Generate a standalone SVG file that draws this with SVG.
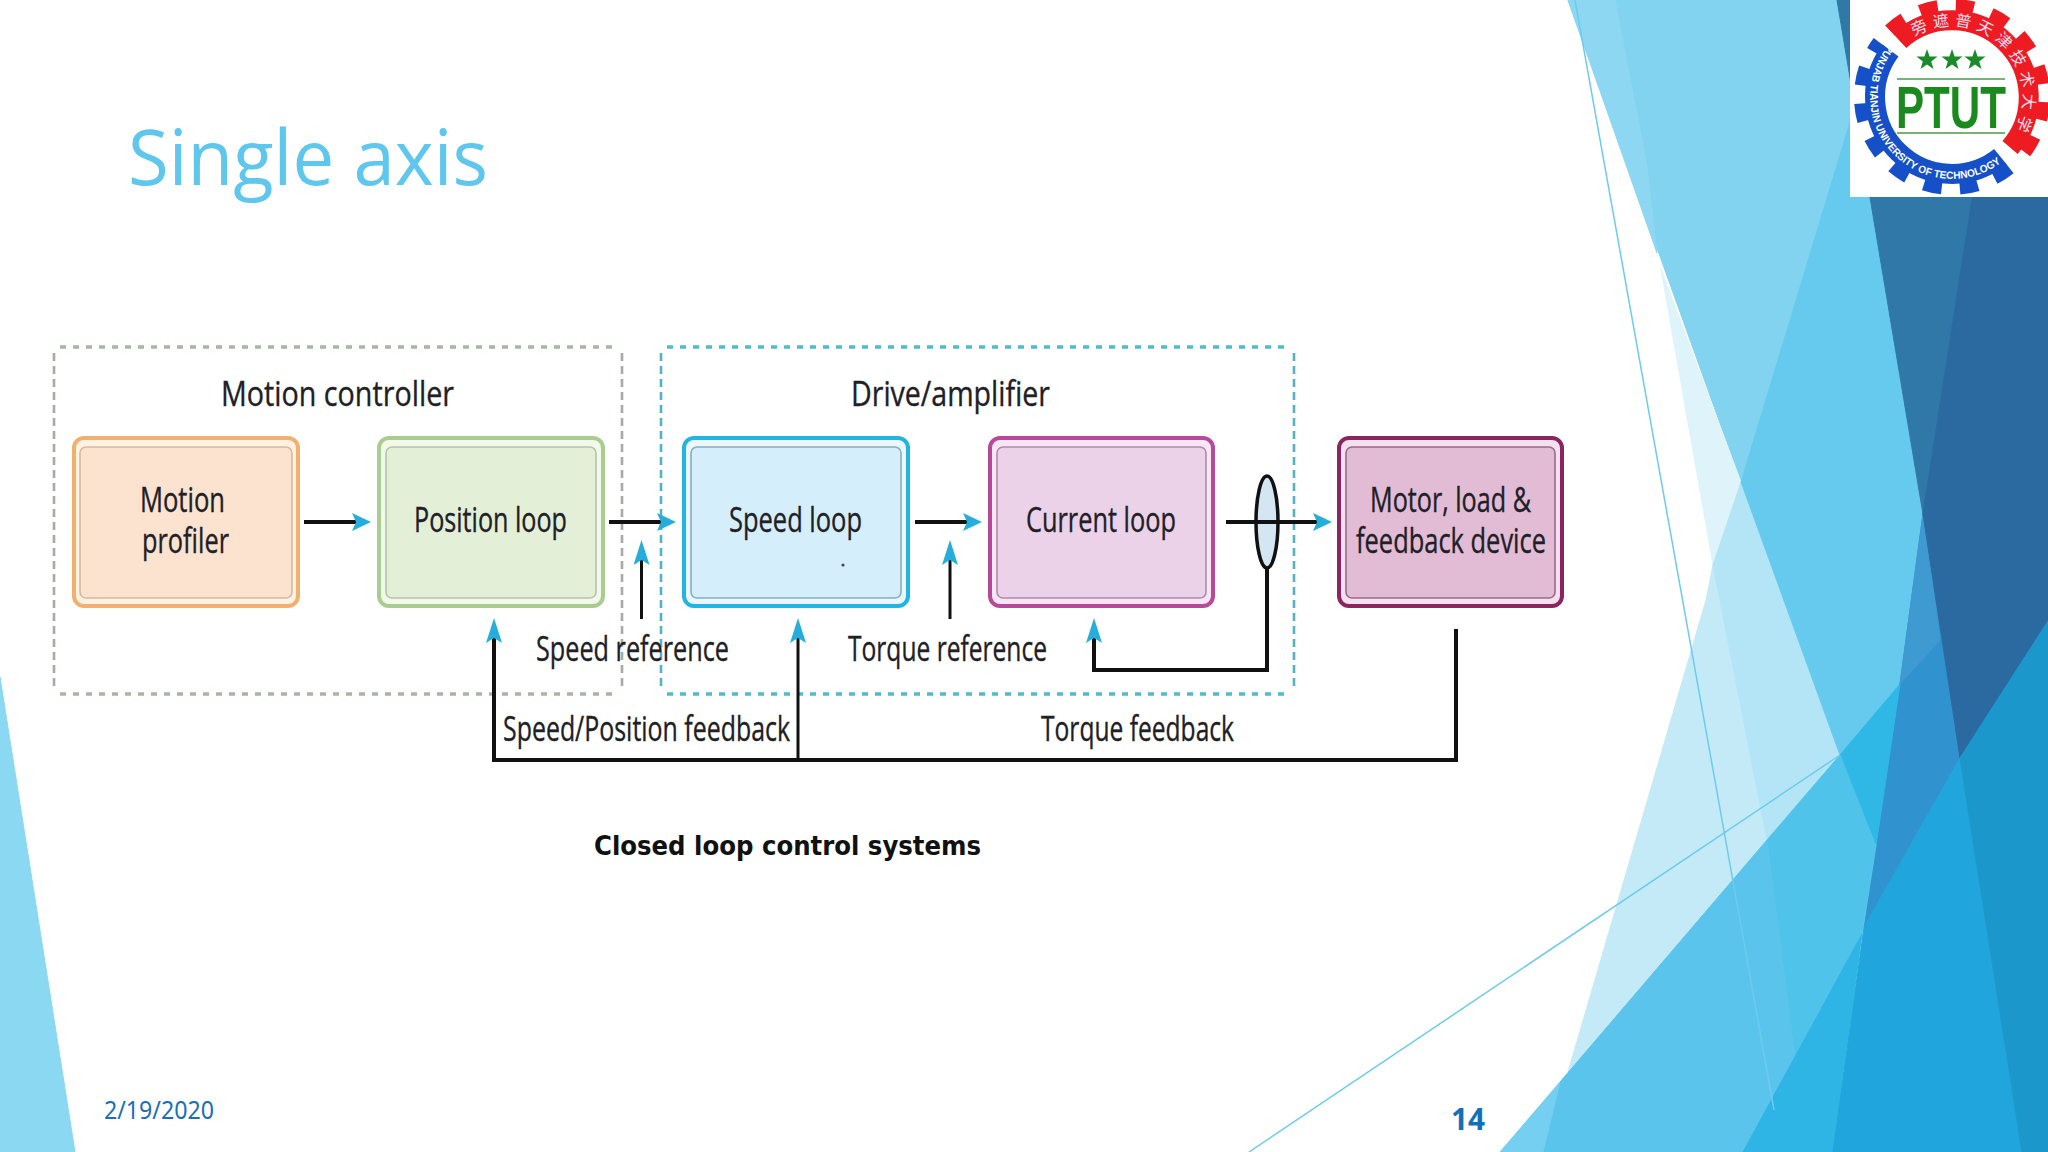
<svg xmlns="http://www.w3.org/2000/svg" xmlns:xlink="http://www.w3.org/1999/xlink" width="2048" height="1152" viewBox="0 0 2048 1152">
<style>
.lbl{font-family:"Open Sans","Noto Sans",sans-serif;font-size:34px;fill:#202026;stroke:#202026;stroke-width:.35;text-anchor:start}
.ln{fill:none;stroke:#111;stroke-width:4}
.ln2{fill:none;stroke:#111;stroke-width:3}
.outer{stroke-width:4}
.inner{stroke-width:1.6}
.thin{fill:none;stroke:#6dcbee;stroke-width:1.5}
.dots{fill:none;stroke-width:3.4;stroke-dasharray:6 7}
.dashes{fill:none;stroke-width:2.6;stroke-dasharray:8 5}
.seam polygon{stroke-width:1}
</style>
<defs>
<marker id="ah" markerUnits="userSpaceOnUse" markerWidth="22" markerHeight="20" refX="4" refY="9" orient="auto"><path d="M0,0 L19,9 L0,18 L4,9 Z" fill="#25aedc"/></marker>
<marker id="av" markerUnits="userSpaceOnUse" markerWidth="28" markerHeight="20" refX="5" refY="8" orient="auto"><path d="M0,0 L25,8 L0,16 L5,8 Z" fill="#25aedc"/></marker>
<polygon id="star" points="0,-11 2.6,-3.6 10.5,-3.4 4.2,1.4 6.5,8.9 0,4.4 -6.5,8.9 -4.2,1.4 -10.5,-3.4 -2.6,-3.6" fill="#1a8a2a"/>
<path id="rt" d="M1914.4,36.8 A71,71 0 0 1 2014.7,130.3"/>
<path id="bt" d="M1889.2,44.3 A82,82 0 0 0 2006.9,157.9"/>
</defs>
<rect width="2048" height="1152" fill="#ffffff"/>
<g id="background" class="seam">
<polygon points="0,677 75,1152 0,1152" fill="#8bd8f3" stroke="#8bd8f3"/>
<polygon points="1568,0 1837,0 1850,80 1850,122 1741,482" fill="#81d3f0" stroke="#81d3f0"/>
<polygon points="1568,0 1615,0 1647,166 1657,253" fill="#8dd7f2" stroke="#8dd7f2"/>
<polygon points="1661,269 1741,482 1713,565" fill="#dff3fb" stroke="#dff3fb"/>
<polygon points="1713,565 1767,840 1568,1072 1706,600" fill="#c4eaf8" stroke="#c4eaf8"/>
<polygon points="1741,482 1840,755 1767,840 1713,565" fill="#b3e5f7" stroke="#b3e5f7"/>
<polygon points="1850,122 1870,0 1923,514 1900,684 1840,755 1741,482" fill="#66caee" stroke="#66caee"/>
<polygon points="1923,514 1960,758 1864,927 1876,846 1900,684" fill="#3192d0" stroke="#3192d0"/>
<polygon points="1923,514 1940,640 1900,684" fill="#3f9ad2" stroke="#3f9ad2"/>
<polygon points="1837,0 2003,0 1923,514" fill="#3078a8" stroke="#3078a8"/>
<polygon points="2003,0 2048,0 2048,621 1960,758 1923,514" fill="#2a6aa0" stroke="#2a6aa0"/>
<polygon points="1840,755 1900,684 1876,846" fill="#2fb8e6" stroke="#2fb8e6"/>
<polygon points="1840,755 1876,846 1862,934 1795,1058 1767,840" fill="#4fc3ea" stroke="#4fc3ea"/>
<polygon points="1767,840 1795,1058 1743,1152 1543,1152 1560,1082" fill="#5bc4ec" stroke="#5bc4ec"/>
<polygon points="1560,1082 1500,1152 1543,1152" fill="#74cff0" stroke="#74cff0"/>
<polygon points="1862,934 1743,1152 1833,1152" fill="#2eb5e6" stroke="#2eb5e6"/>
<polygon points="1864,927 1960,758 2022,1152 1833,1152" fill="#20a5dc" stroke="#20a5dc"/>
<polygon points="1960,758 2048,621 2048,1152 2022,1152" fill="#1c97cc" stroke="#1c97cc"/>
<line class="thin" x1="1840" y1="755" x2="1249" y2="1152"/>
<line class="thin" x1="1575" y1="0" x2="1774" y2="1110"/>
</g>
<g id="logo">
<rect x="1850" y="0" width="198" height="197" fill="#ffffff"/>
<path d="M1899.5,40.7 A77,77 0 0 1 2010.1,147.5" fill="none" stroke="#ee1c22" stroke-width="20"/>
<path d="M1889.9,30.5 A91,91 0 0 1 2020.7,156.7" fill="none" stroke="#ee1c22" stroke-width="14" stroke-dasharray="18 18"/>
<path d="M2000.4,156.8 A77,77 0 0 1 1890.5,50.6" fill="none" stroke="#1550c8" stroke-width="20"/>
<path d="M2009.2,167.7 A91,91 0 0 1 1879.3,42.2" fill="none" stroke="#1550c8" stroke-width="14" stroke-dasharray="18 18"/>
<text font-family="Noto Sans CJK SC,sans-serif" font-size="16" fill="#fde" letter-spacing="5"><textPath href="#rt" xlink:href="#rt">旁遮普天津技术大学</textPath></text>
<text font-family="Liberation Sans,sans-serif" font-size="10.5" font-weight="bold" fill="#fff" textLength="238" lengthAdjust="spacingAndGlyphs"><textPath href="#bt" xlink:href="#bt">PUNJAB TIANJIN UNIVERSITY OF TECHNOLOGY</textPath></text>
<use href="#star" xlink:href="#star" x="1927" y="60"/>
<use href="#star" xlink:href="#star" x="1952" y="60"/>
<use href="#star" xlink:href="#star" x="1975" y="60"/>
<line x1="1897" y1="79" x2="2005" y2="79" stroke="#4a9a4a" stroke-width="1.5"/>
<line x1="1897" y1="133" x2="2005" y2="133" stroke="#4a9a4a" stroke-width="1.5"/>
<text x="1896" y="128" font-family="Liberation Sans,sans-serif" font-weight="bold" font-size="60" fill="#1a8a1e" textLength="110" lengthAdjust="spacingAndGlyphs">PTUT</text>
</g>
<text id="title" x="128" y="185" font-family="Open Sans,sans-serif" font-size="77" fill="#5fc6ee" textLength="360" lengthAdjust="spacingAndGlyphs">Single axis</text>
<g id="motion-controller">
<path class="dots" d="M60,347 H616 M60,694 H616" stroke="#a6b8a4"/>
<path class="dashes" d="M54,353 V688 M622,353 V688" stroke="#a6aca4"/>
<text class="lbl" x="221" y="406" textLength="233" lengthAdjust="spacingAndGlyphs">Motion controller</text>
</g>
<g id="drive-amplifier">
<path class="dots" d="M667,347 H1288 M667,694 H1288" stroke="#4fbcc8"/>
<path class="dashes" d="M661,353 V688 M1294,353 V688" stroke="#4fb4c8"/>
<text class="lbl" x="851" y="406" textLength="199" lengthAdjust="spacingAndGlyphs">Drive/amplifier</text>
</g>
<g id="connectors">
<path class="ln" d="M304,522 H356" marker-end="url(#ah)"/>
<path class="ln" d="M609,522 H661" marker-end="url(#ah)"/>
<path class="ln" d="M915,522 H967" marker-end="url(#ah)"/>
<ellipse cx="1267" cy="522" rx="11" ry="46" fill="#d3e6f2" stroke="#111" stroke-width="3.5"/>
<path class="ln" d="M1226,522 H1317" marker-end="url(#ah)"/>
<path class="ln2" d="M641.5,619 V560" marker-end="url(#av)"/>
<path class="ln2" d="M950,619 V560" marker-end="url(#av)"/>
<path class="ln" d="M1267,568 V670 H1094 V638" marker-end="url(#av)"/>
<path class="ln" d="M1456,629 V760 H494 V638" marker-end="url(#av)"/>
<path class="ln2" d="M798,760 V638" marker-end="url(#av)"/>
</g>
<g id="motion-profiler">
<rect class="outer" x="74" y="438" width="224" height="168" rx="10" fill="#fff2e2" stroke="#f0b070"/>
<rect class="inner" x="80" y="447" width="212" height="151" rx="6" fill="#fbe3cf" stroke="#d8b8a0"/>
<text class="lbl" x="140" y="512" textLength="85" lengthAdjust="spacingAndGlyphs">Motion</text>
<text class="lbl" x="142" y="553" textLength="87" lengthAdjust="spacingAndGlyphs">profiler</text>
</g>
<g id="position-loop">
<rect class="outer" x="379" y="438" width="224" height="168" rx="10" fill="#f2f8ea" stroke="#a9cc8f"/>
<rect class="inner" x="386" y="447" width="210" height="151" rx="6" fill="#e3efd6" stroke="#b4c4aa"/>
<text class="lbl" x="414" y="532" textLength="153" lengthAdjust="spacingAndGlyphs">Position loop</text>
</g>
<g id="speed-loop">
<rect class="outer" x="684" y="438" width="224" height="168" rx="10" fill="#eaf8fe" stroke="#22b4e2"/>
<rect class="inner" x="691" y="447" width="210" height="151" rx="6" fill="#d4eefb" stroke="#8aacc0"/>
<text class="lbl" x="729" y="532" textLength="133" lengthAdjust="spacingAndGlyphs">Speed loop</text>
<circle cx="843" cy="565" r="1.6" fill="#445"/>
</g>
<g id="current-loop">
<rect class="outer" x="990" y="438" width="223" height="168" rx="10" fill="#f8e6f4" stroke="#b8489a"/>
<rect class="inner" x="997" y="447" width="209" height="151" rx="6" fill="#ecd2e8" stroke="#b08aac"/>
<text class="lbl" x="1026" y="532" textLength="150" lengthAdjust="spacingAndGlyphs">Current loop</text>
</g>
<g id="motor-load">
<rect class="outer" x="1339" y="438" width="223" height="168" rx="10" fill="#f4e0ee" stroke="#8a2560"/>
<rect class="inner" x="1346" y="447" width="209" height="151" rx="6" fill="#e2bcd4" stroke="#9a6a8c"/>
<text class="lbl" x="1370" y="512" textLength="161" lengthAdjust="spacingAndGlyphs">Motor, load &amp;</text>
<text class="lbl" x="1356" y="553" textLength="190" lengthAdjust="spacingAndGlyphs">feedback device</text>
</g>
<g id="labels">
<text class="lbl" x="536" y="661" textLength="193" lengthAdjust="spacingAndGlyphs">Speed reference</text>
<text class="lbl" x="848" y="661" textLength="199" lengthAdjust="spacingAndGlyphs">Torque reference</text>
<text class="lbl" x="503" y="741" textLength="287" lengthAdjust="spacingAndGlyphs">Speed/Position feedback</text>
<text class="lbl" x="1041" y="741" textLength="193" lengthAdjust="spacingAndGlyphs">Torque feedback</text>
</g>
<text id="caption" x="594" y="855" font-family="DejaVu Sans,sans-serif" font-weight="bold" font-size="27" fill="#111" textLength="387" lengthAdjust="spacingAndGlyphs">Closed loop control systems</text>
<text id="date" x="104" y="1119" font-family="Noto Sans,sans-serif" font-size="25" fill="#1a6fb8" textLength="110" lengthAdjust="spacingAndGlyphs">2/19/2020</text>
<text id="page" x="1451" y="1130" font-family="Noto Sans,sans-serif" font-weight="bold" font-size="30" fill="#1270b8" textLength="34" lengthAdjust="spacingAndGlyphs">14</text>
</svg>
